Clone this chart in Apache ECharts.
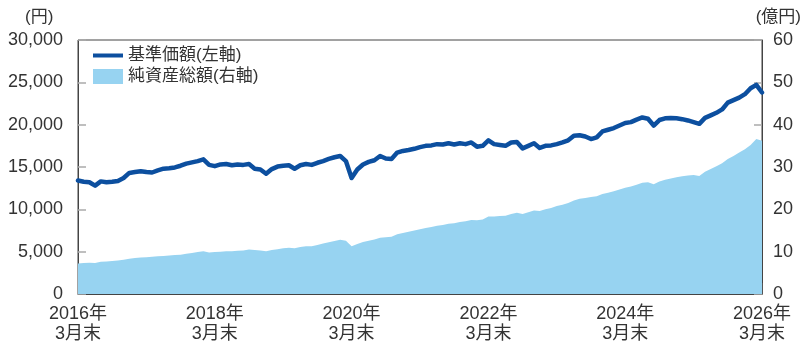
<!DOCTYPE html>
<html>
<head>
<meta charset="utf-8">
<script src="https://cdn.jsdelivr.net/npm/echarts@6/dist/echarts.min.js"></script>
<style>
  html, body { margin: 0; padding: 0; background: #fff; }
  #chart { width: 803px; height: 347px; }
</style>
</head>
<body>
<div id="chart"></div>
<script>
// Month-end points, 2016年3月末 through 2026年3月末
const startYear = 2016;
const startMonth = 3;
const monthCount = 121;

// 基準価額 (円), left axis
const navValues = [
  13400, 13250, 13200, 12800, 13300, 13200, 13250, 13350, 13700, 14300,
  14400, 14500, 14400, 14350, 14600, 14800, 14850, 14950, 15150, 15400,
  15550, 15700, 15900, 15250, 15100, 15300, 15350, 15200, 15300, 15250,
  15350, 14800, 14700, 14200, 14750, 15050, 15150, 15200, 14800, 15200,
  15350, 15250, 15500, 15700, 15950, 16150, 16300, 15700, 13700, 14700,
  15300, 15600, 15800, 16300, 16000, 15950, 16700, 16900, 17000, 17150,
  17350, 17500, 17550, 17700, 17650, 17800, 17650, 17800, 17700, 17900,
  17400, 17500, 18150, 17700, 17600, 17500, 17900, 17950, 17200, 17500,
  17800, 17250, 17500, 17550, 17700, 17900, 18150, 18700, 18750, 18600,
  18300, 18500, 19200, 19400, 19600, 19900, 20200, 20300, 20600, 20850,
  20700, 19900, 20550, 20750, 20800, 20750, 20650, 20500, 20300, 20100,
  20800, 21100, 21400, 21800, 22600, 22900, 23200, 23600, 24300, 24700,
  23800
];

// 純資産総額 (億円), right axis
const aumValues = [
  7.2, 7.3, 7.4, 7.3, 7.6, 7.7, 7.8, 7.9, 8.1, 8.3,
  8.5, 8.6, 8.7, 8.8, 8.9, 9.0, 9.1, 9.2, 9.3, 9.5,
  9.7, 9.9, 10.1, 9.8, 9.9, 10.0, 10.1, 10.1, 10.2, 10.3,
  10.5, 10.4, 10.3, 10.1, 10.4, 10.6, 10.8, 10.9, 10.8, 11.1,
  11.3, 11.3, 11.6, 11.9, 12.2, 12.5, 12.8, 12.6, 11.3, 11.8,
  12.3, 12.6, 12.9, 13.3, 13.4, 13.5, 14.1, 14.4, 14.7, 15.0,
  15.3, 15.6, 15.8, 16.1, 16.3, 16.6, 16.7, 17.0, 17.2, 17.5,
  17.4, 17.6, 18.3, 18.3, 18.4, 18.5, 18.9, 19.2, 18.9, 19.3,
  19.7, 19.6, 20.0, 20.3, 20.8, 21.1, 21.5, 22.1, 22.5, 22.7,
  22.9, 23.1, 23.6, 23.9, 24.3, 24.7, 25.1, 25.4, 25.8, 26.3,
  26.4, 25.9, 26.6, 27.0, 27.3, 27.6, 27.8, 28.0, 28.1, 27.9,
  28.9, 29.5, 30.2, 30.9, 31.9, 32.6, 33.4, 34.2, 35.2, 36.6,
  36.2
];

// Axis tick values
const leftTicks = [0, 5000, 10000, 15000, 20000, 25000, 30000];
const rightTicks = [0, 10, 20, 30, 40, 50, 60];
const labelEvery = 24; // one labelled tick every two years

const seriesNames = ['基準価額(左軸)', '純資産総額(右軸)'];
const unitLeft = '(円)';
const unitRight = '(億円)';

const months = [];
for (let i = 0; i < monthCount; i++) {
  const total = (startMonth - 1) + i;
  const y = startYear + Math.floor(total / 12);
  const m = (total % 12) + 1;
  months.push(y + '年\n' + m + '月末');
}

const navColor = '#0c4f9f';
const aumColor = '#97d3f1';
const textColor = '#333';
const fontFamily = '"Liberation Sans", Arial, "Noto Sans CJK JP", sans-serif';

const chart = echarts.init(document.getElementById('chart'), null, { renderer: 'canvas' });

chart.setOption({
  animation: false,
  backgroundColor: '#fff',
  textStyle: { fontFamily: fontFamily, color: textColor },
  grid: {
    left: 78, right: 41, top: 40, bottom: 53,
    show: true, borderColor: '#444', borderWidth: 1, backgroundColor: 'transparent'
  },
  legend: [
    {
      data: [{ name: seriesNames[0], icon: 'rect' }],
      left: 88, top: 42,
      itemWidth: 30, itemHeight: 4, itemGap: 5,
      textStyle: { fontSize: 17, color: textColor, fontFamily: fontFamily }
    },
    {
      data: [{ name: seriesNames[1], icon: 'rect' }],
      left: 88, top: 63,
      itemWidth: 30, itemHeight: 15, itemGap: 5,
      textStyle: { fontSize: 17, color: textColor, fontFamily: fontFamily }
    }
  ],
  graphic: [
    {
      type: 'text', left: 25, top: 9,
      style: { text: unitLeft, fill: textColor, font: '17px ' + fontFamily }
    },
    {
      type: 'text', right: 2, top: 9,
      style: { text: unitRight, fill: textColor, font: '17px ' + fontFamily }
    }
  ],
  xAxis: {
    type: 'category',
    data: months,
    boundaryGap: false,
    axisLine: { show: true, lineStyle: { color: '#444', width: 1 } },
    axisTick: {
      show: true, inside: true, length: 11,
      interval: (i) => i % labelEvery === 0,
      lineStyle: { color: '#555', width: 1 }
    },
    axisLabel: {
      interval: (i) => i % labelEvery === 0,
      fontSize: 18, lineHeight: 20, margin: 10, color: textColor,
      fontFamily: fontFamily,
      showMinLabel: true, showMaxLabel: true
    },
    splitLine: { show: false }
  },
  yAxis: [
    {
      type: 'value',
      min: leftTicks[0], max: leftTicks[leftTicks.length - 1],
      interval: leftTicks[1] - leftTicks[0],
      axisLine: { show: true, lineStyle: { color: '#444', width: 1 } },
      axisTick: { show: true, inside: true, length: 8, lineStyle: { color: '#aaa', width: 1.5 } },
      axisLabel: {
        fontSize: 18, margin: 15, color: textColor, fontFamily: fontFamily,
        formatter: (v) => v.toLocaleString('en-US')
      },
      splitLine: { show: false }
    },
    {
      type: 'value',
      min: rightTicks[0], max: rightTicks[rightTicks.length - 1],
      interval: rightTicks[1] - rightTicks[0],
      position: 'right',
      axisLine: { show: true, lineStyle: { color: '#444', width: 1 } },
      axisTick: { show: true, inside: true, length: 8, lineStyle: { color: '#aaa', width: 1.5 } },
      axisLabel: { fontSize: 18, margin: 11, color: textColor, fontFamily: fontFamily },
      splitLine: { show: false }
    }
  ],
  series: [
    {
      name: seriesNames[1],
      type: 'line',
      yAxisIndex: 1,
      data: aumValues,
      symbol: 'none',
      lineStyle: { width: 0, color: aumColor },
      itemStyle: { color: aumColor },
      areaStyle: { color: aumColor, opacity: 1 },
      z: 1
    },
    {
      name: seriesNames[0],
      type: 'line',
      yAxisIndex: 0,
      data: navValues,
      symbol: 'none',
      lineStyle: { width: 4.5, color: navColor, join: 'round', cap: 'round' },
      itemStyle: { color: navColor },
      z: 3
    }
  ]
});
</script>
</body>
</html>
